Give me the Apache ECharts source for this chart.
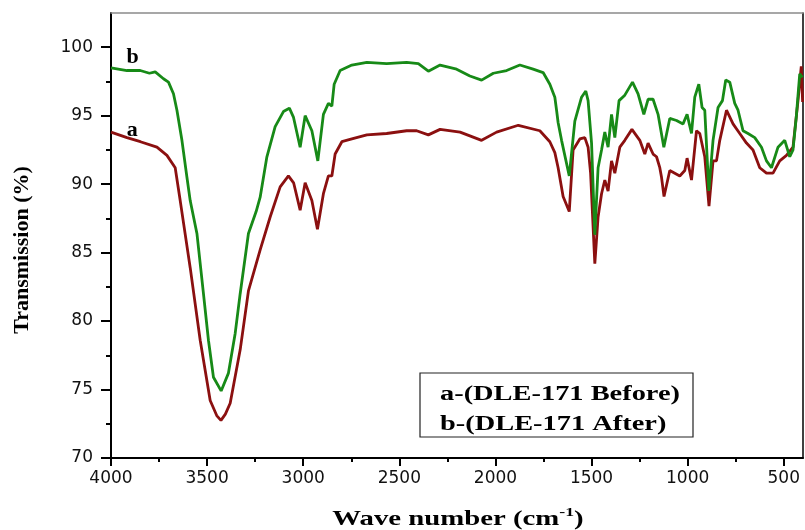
<!DOCTYPE html>
<html>
<head>
<meta charset="utf-8">
<script src="https://cdn.jsdelivr.net/npm/echarts@6/dist/echarts.min.js"></script>
<style>html,body{margin:0;padding:0;background:#fff}#c{width:805px;height:530px}</style>
</head>
<body>
<div id="c"></div>
<script>
// Wavenumber (cm-1) and transmission (%)
var waveA = [4000,3917,3847,3761,3709,3666,3640,3588,3536,3484,3450,3428,3405,3380,3328,3285,3224,3172,3120,3077,3050,3016,2990,2955,2926,2895,2869,2851,2834,2799,2747,2669,2566,2462,2410,2349,2288,2184,2072,1994,1881,1769,1717,1691,1674,1648,1616,1596,1561,1535,1518,1505,1483,1466,1448,1431,1414,1396,1379,1353,1327,1290,1249,1223,1206,1180,1162,1145,1136,1123,1093,1041,1015,1003,980,954,937,911,889,868,850,833,798,764,729,694,660,625,590,556,521,486,452,426,409,402];
var transA = [93.8,93.4,93.1,92.7,92.1,91.2,88.8,83.9,78.6,74.2,73.1,72.75,73.2,74.0,77.9,82.2,85.2,87.6,89.8,90.6,90.1,88.1,90.1,88.8,86.7,89.3,90.6,90.6,92.2,93.1,93.3,93.6,93.7,93.9,93.9,93.6,94.0,93.8,93.2,93.8,94.3,93.9,93.1,92.3,91.2,89.1,88.0,92.5,93.3,93.4,92.7,90.8,84.2,87.6,89.3,90.3,89.5,91.7,90.8,92.7,93.2,94.0,93.2,92.2,93.0,92.2,92.0,91.2,90.5,89.1,91.0,90.6,91.0,91.9,90.3,93.9,93.7,92.0,88.4,91.7,91.7,93.2,95.4,94.4,93.7,93.0,92.5,91.2,90.8,90.8,91.7,92.1,92.7,96.1,98.6,96.0];
var waveB = [4000,3917,3848,3800,3770,3727,3701,3675,3657,3631,3605,3588,3553,3519,3493,3467,3427,3389,3354,3328,3285,3245,3224,3189,3146,3103,3072,3051,3016,2990,2955,2924,2895,2869,2851,2839,2808,2747,2669,2566,2462,2401,2349,2288,2202,2133,2072,2011,1942,1873,1804,1752,1717,1691,1682,1674,1656,1616,1587,1552,1530,1518,1500,1483,1466,1448,1431,1414,1396,1379,1357,1327,1287,1258,1228,1206,1180,1154,1124,1093,1058,1024,1003,980,963,942,925,911,890,868,842,819,802,781,755,738,712,686,651,616,590,564,530,495,469,452,435,417,403];
var transB = [98.5,98.3,98.3,98.1,98.2,97.7,97.45,96.6,95.4,93.2,90.5,88.8,86.4,82.0,78.6,75.9,74.9,76.2,79.1,82.0,86.4,88.0,89.05,92.0,94.2,95.3,95.55,94.9,92.7,95.0,93.9,91.7,95.1,95.9,95.7,97.3,98.3,98.7,98.9,98.8,98.9,98.8,98.25,98.7,98.4,97.9,97.6,98.1,98.3,98.7,98.4,98.15,97.3,96.35,95.4,94.5,93.2,90.6,94.6,96.35,96.8,96.1,93.0,86.3,91.2,92.5,93.8,92.7,95.1,93.4,96.1,96.5,97.45,96.6,95.1,96.2,96.2,95.1,92.7,94.8,94.65,94.4,95.1,93.7,96.35,97.3,95.6,95.4,89.5,93.2,95.6,96.1,97.6,97.45,95.9,95.4,93.9,93.7,93.4,92.7,91.7,91.2,92.7,93.2,92.0,92.5,94.9,98.05,97.8];
var xMajorTicks = [500,1000,1500,2000,2500,3000,3500,4000];
var xMinorTicks = [750,1250,1750,2250,2750,3250,3750];
var yMajorTicks = [70,75,80,85,90,95,100];
var yMinorTicks = [72.5,77.5,82.5,87.5,92.5,97.5];
var seriesNames = ['a-(DLE-171 Before)','b-(DLE-171 After)'];
var curveLabels = ['a','b'];

function pairs(w,t){var o=[];for(var i=0;i<w.length;i++)o.push([w[i],t[i]]);return o;}
function plain(v){return String(v);}

var tickFont = {fontFamily:'DejaVu Sans', fontSize:17, color:'#111', formatter:plain};
var serif = 'Liberation Serif, Times New Roman, serif';
var chart = echarts.init(document.getElementById('c'), null, {renderer:'canvas'});
var xBase = {type:'value', min:400, max:4000, inverse:true, gridIndex:0, splitLine:{show:false}};
var yBase = {type:'value', min:70, max:102.5, gridIndex:0, splitLine:{show:false}};
chart.setOption({
  animation:false,
  backgroundColor:'#fff',
  grid:{left:111, right:2, top:13, bottom:72, containLabel:false},
  xAxis:[
    Object.assign({}, xBase, {position:'bottom',
      axisLine:{show:true, onZero:false, lineStyle:{color:'#000', width:2}},
      axisTick:{show:true, length:8, customValues:xMajorTicks, lineStyle:{color:'#000', width:2}},
      axisLabel:Object.assign({show:true, margin:12, customValues:xMajorTicks}, tickFont)}),
    Object.assign({}, xBase, {position:'bottom',
      axisLine:{show:false, onZero:false},
      axisTick:{show:true, length:4, customValues:xMinorTicks, lineStyle:{color:'#000', width:2}},
      axisLabel:{show:false}}),
    Object.assign({}, xBase, {position:'top',
      axisLine:{show:true, onZero:false, lineStyle:{color:'#8a8a8a', width:1.5}},
      axisTick:{show:false}, axisLabel:{show:false}})
  ],
  yAxis:[
    Object.assign({}, yBase, {position:'left',
      axisLine:{show:true, onZero:false, lineStyle:{color:'#000', width:2}},
      axisTick:{show:true, length:10, customValues:yMajorTicks, lineStyle:{color:'#000', width:2}},
      axisLabel:Object.assign({show:true, margin:18, customValues:yMajorTicks}, tickFont)}),
    Object.assign({}, yBase, {position:'left',
      axisLine:{show:false, onZero:false},
      axisTick:{show:true, length:5, customValues:yMinorTicks, lineStyle:{color:'#000', width:2}},
      axisLabel:{show:false}}),
    Object.assign({}, yBase, {position:'right',
      axisLine:{show:true, onZero:false, lineStyle:{color:'#000', width:1.5}},
      axisTick:{show:false}, axisLabel:{show:false}})
  ],
  series:[
    {name:seriesNames[0], type:'line', xAxisIndex:0, yAxisIndex:0, data:pairs(waveA,transA),
     showSymbol:false, symbol:'none', lineStyle:{color:'#8B1010', width:2.8}, itemStyle:{color:'#8B1010'},
     markPoint:{symbol:'circle', symbolSize:1, itemStyle:{color:'rgba(0,0,0,0)'},
       label:{show:true, position:'inside', formatter:curveLabels[0], fontFamily:serif, fontWeight:'bold', fontSize:22, color:'#000'},
       data:[{coord:[3890, 93.95]}]}},
    {name:seriesNames[1], type:'line', xAxisIndex:0, yAxisIndex:0, data:pairs(waveB,transB),
     showSymbol:false, symbol:'none', lineStyle:{color:'#178A17', width:2.8}, itemStyle:{color:'#178A17'},
     markPoint:{symbol:'circle', symbolSize:1, itemStyle:{color:'rgba(0,0,0,0)'},
       label:{show:true, position:'inside', formatter:curveLabels[1], fontFamily:serif, fontWeight:'bold', fontSize:22, color:'#000'},
       data:[{coord:[3888, 99.3]}]}}
  ],
  graphic:[
    {type:'text', x:22, y:250, rotation:Math.PI/2,
     style:{text:'Transmission (%)', fontFamily:serif, fontWeight:'bold', fontSize:22, fill:'#000', align:'center', verticalAlign:'middle'}},
    {type:'text', x:458, y:518, scaleX:1.37,
     style:{text:'{n|Wave number (cm}{s|-1}{n|)}', align:'center', verticalAlign:'middle', fill:'#000',
       rich:{n:{fontFamily:serif, fontWeight:'bold', fontSize:21, lineHeight:24, verticalAlign:'bottom'},
             s:{fontFamily:serif, fontWeight:'bold', fontSize:13, lineHeight:24, verticalAlign:'top'}}}},
    {type:'rect', shape:{x:420, y:373, width:273, height:64},
     style:{fill:'#fff', stroke:'#222', lineWidth:1.2}},
    {type:'text', x:440, y:395, scaleX:1.42,
     style:{text:seriesNames[0], fontFamily:serif, fontWeight:'bold', fontSize:20, fill:'#000', align:'left', verticalAlign:'middle'}},
    {type:'text', x:440, y:425, scaleX:1.42,
     style:{text:seriesNames[1], fontFamily:serif, fontWeight:'bold', fontSize:20, fill:'#000', align:'left', verticalAlign:'middle'}}
  ]
});
</script>
</body>
</html>
